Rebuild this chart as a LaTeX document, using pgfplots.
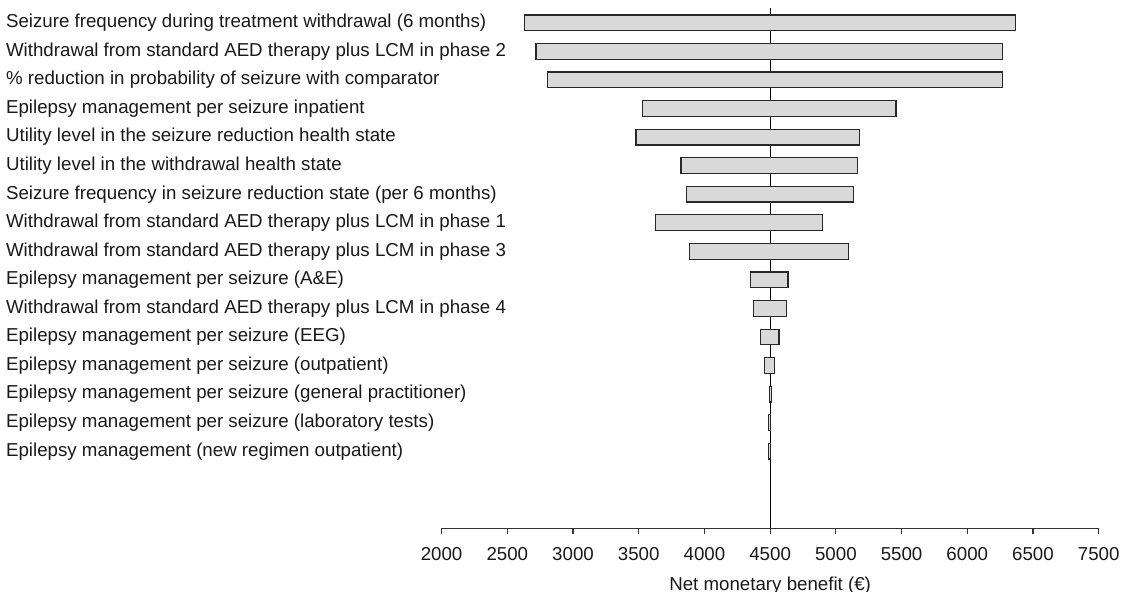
\documentclass[border=0pt]{standalone}
\usepackage{fontspec}
\setmainfont{Liberation Sans}
\usepackage{pgfplots}
\usepackage{pgfplotstable}
\pgfplotsset{compat=1.18}
\definecolor{barfill}{RGB}{217,217,217}
\definecolor{barline}{RGB}{40,40,40}
\pgfplotstableread{
row low high
1 2631 6366
2 2719 6271
3 2807 6271
4 3530 5457
5 3479 5182
6 3822 5165
7 3862 5134
8 3628 4900
9 3889 5097
10 4351 4636
11 4371 4626
12 4429 4568
13 4459 4531
14 4494 4508
15 4489 4500
16 4489 4500
}\tornado
\begin{document}
\fontsize{18.7bp}{22bp}\selectfont
\begin{tikzpicture}
\path[use as bounding box] (0,0) rectangle (1131bp,-592bp);
\begin{axis}[
  at={(441.6bp,-528.2bp)}, anchor=south west,
  scale only axis, width=657.1bp, height=519.9bp,
  xmin=2000, xmax=7000,
  ymin=0.492, ymax=18.695, y dir=reverse,
  xbar stacked, bar width=0.55,
  axis x line*=bottom, axis y line*=left,
  x axis line style={-, line width=1.2bp, black!80},
  y axis line style={draw=none},
  xtick={2000,2500,...,7000},
  xticklabels={2000,2500,3000,3500,4000,4500,5000,5500,6000,6500,7500},
  tick align=outside, major tick length=5.5bp,
  xtick style={line width=1.2bp, black!80},
  ytick={1,...,16}, ytick style={draw=none},
  yticklabels={
    {Seizure frequency during treatment withdrawal (6 months)},
    {Withdrawal from standard AED therapy plus LCM in phase 2},
    {\% reduction in probability of seizure with comparator},
    {Epilepsy management per seizure inpatient},
    {Utility level in the seizure reduction health state},
    {Utility level in the withdrawal health state},
    {Seizure frequency in seizure reduction state (per 6 months)},
    {Withdrawal from standard AED therapy plus LCM in phase 1},
    {Withdrawal from standard AED therapy plus LCM in phase 3},
    {Epilepsy management per seizure (A\&E)},
    {Withdrawal from standard AED therapy plus LCM in phase 4},
    {Epilepsy management per seizure (EEG)},
    {Epilepsy management per seizure (outpatient)},
    {Epilepsy management per seizure (general practitioner)},
    {Epilepsy management per seizure (laboratory tests)},
    {Epilepsy management (new regimen outpatient)}},
  yticklabel style={anchor=west, inner sep=0pt, xshift=-430.2bp, text=black!90},
  xticklabel style={text=black!90, yshift=-7.5bp},
  scaled ticks=false,
  xlabel={Net monetary benefit (€)},
  xlabel style={text=black!90, yshift=-3bp},
  clip=false,
]
\addplot[draw=none, fill=none] table[x=low, y=row] {\tornado};
\addplot[fill=barfill, draw=barline, line width=1.2bp] table[x expr=\thisrow{high}-\thisrow{low}, y=row] {\tornado};
\draw[line width=1bp, black] (axis cs:4500,0.492) -- (axis cs:4500,18.695);
\end{axis}
\end{tikzpicture}
\end{document}
